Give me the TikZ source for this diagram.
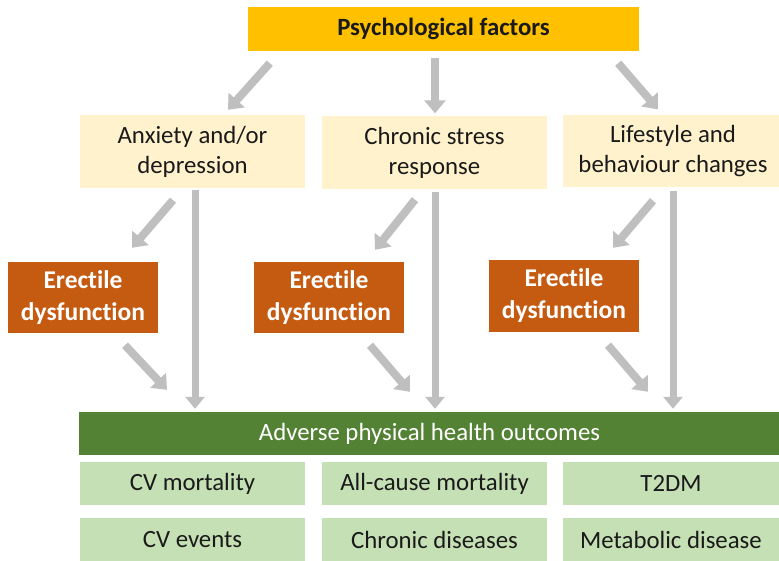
\documentclass[tikz,border=0pt]{standalone}
\usepackage{fontspec}
\setmainfont{Carlito}[Ligatures=NoCommon]
\usetikzlibrary{arrows.meta,calc}
\definecolor{topfill}{HTML}{FFC000}
\definecolor{midfill}{HTML}{FFF2CC}
\definecolor{edfill}{HTML}{C55A11}
\definecolor{outfill}{HTML}{548235}
\definecolor{subfill}{HTML}{C5E0B4}
\definecolor{arrowgray}{HTML}{BFBFBF}
\definecolor{txt}{HTML}{1A1A1A}
\begin{document}
\begin{tikzpicture}[x=1pt,y=-1pt,
  box/.style={rectangle,inner sep=0pt,align=center,text=txt},
  headbox/.style={box,fill=topfill,minimum width=391pt,minimum height=44pt,
    font=\fontsize{24.8}{28}\selectfont\bfseries},
  midbox/.style={box,fill=midfill,minimum width=225pt,minimum height=73pt,
    font=\fontsize{24.8}{30}\selectfont},
  edbox/.style={box,fill=edfill,text=white,minimum width=150pt,minimum height=71pt,
    font=\fontsize{25.5}{32}\selectfont\bfseries},
  outbox/.style={box,fill=outfill,text=white,minimum width=701pt,minimum height=43pt,
    font=\fontsize{24.8}{26}\selectfont},
  subbox/.style={box,fill=subfill,minimum height=43pt,
    font=\fontsize{24.8}{26}\selectfont},
  arr/.style={draw=arrowgray,line width=8pt,
    -{Triangle[width=21pt,length=13pt]}},
  varr/.style={draw=arrowgray,line width=7pt,
    -{Triangle[width=19pt,length=12pt]}}]
\useasboundingbox (0,0) rectangle (779,561);

% top level
\node[headbox] (top) at (443.5,29) {Psychological factors};

% mediating factors
\node[midbox] (y1) at (192.5,151.5) {Anxiety and/or\\depression};
\node[midbox] (y2) at (434.5,153) {Chronic stress\\response};
\node[midbox,minimum width=220pt,minimum height=72pt] (y3) at (673,151.5) {Lifestyle and\\behaviour changes};

% erectile dysfunction boxes
\node[edbox] (e1) at (83,297.5) {Erectile\\dysfunction};
\node[edbox] (e2) at (329,297.5) {Erectile\\dysfunction};
\node[edbox,minimum height=72pt] (e3) at (564,296) {Erectile\\dysfunction};

% outcomes
\node[outbox] (g) at (429.5,433.5) {Adverse physical health outcomes};
\node[subbox,minimum width=225pt] (s1) at (192.5,483.5) {CV mortality};
\node[subbox,minimum width=225pt] (s2) at (434.5,483.5) {All-cause mortality};
\node[subbox,minimum width=216pt] (s3) at (671,483.5) {T2DM};
\node[subbox,minimum width=225pt,minimum height=44pt] (s4) at (192.5,539.5) {CV events};
\node[subbox,minimum width=225pt,minimum height=44pt] (s5) at (434.5,539.5) {Chronic diseases};
\node[subbox,minimum width=216pt,minimum height=44pt] (s6) at (671,539.5) {Metabolic disease};

% arrows from the top box
\draw[arr] ($(top.south west)+(22,12)$) -- ($(y1.north)+(35.5,-5)$);
\draw[arr] ($(y2.north |- top.south)+(0.5,7)$) -- ($(y2.north)+(0.5,-3)$);
\draw[arr] ($(top.south east)+(-21,12)$) -- ($(y3.north)+(-15,-6)$);

% mediating factors to erectile dysfunction
\draw[arr] ($(y1.south)+(-19.5,12)$) -- ($(e1.north)+(49,-14)$);
\draw[arr] ($(y2.south)+(-19.5,10)$) -- ($(e2.north)+(46,-12)$);
\draw[arr] ($(y3.south)+(-20,13)$) -- ($(e3.north)+(49,-12)$);

% erectile dysfunction to outcomes
\draw[arr] ($(e1.south)+(42,12)$) -- ($(e1.south |- g.north)+(84,-22)$);
\draw[arr] ($(e2.south)+(41,12)$) -- ($(e2.south |- g.north)+(81,-20)$);
\draw[arr] ($(e3.south)+(44,13)$) -- ($(e3.south |- g.north)+(84,-20)$);

% mediating factors straight to outcomes
\draw[varr] ($(y1.south)+(2.5,2)$) -- ($(y1.south |- g.north)+(2.5,-3)$);
\draw[varr] ($(y2.south)+(0.5,2)$) -- ($(y2.south |- g.north)+(0.5,-3)$);
\draw[varr] ($(y3.south)+(0,3)$) -- ($(y3.south |- g.north)+(0,-3)$);
\end{tikzpicture}
\end{document}
